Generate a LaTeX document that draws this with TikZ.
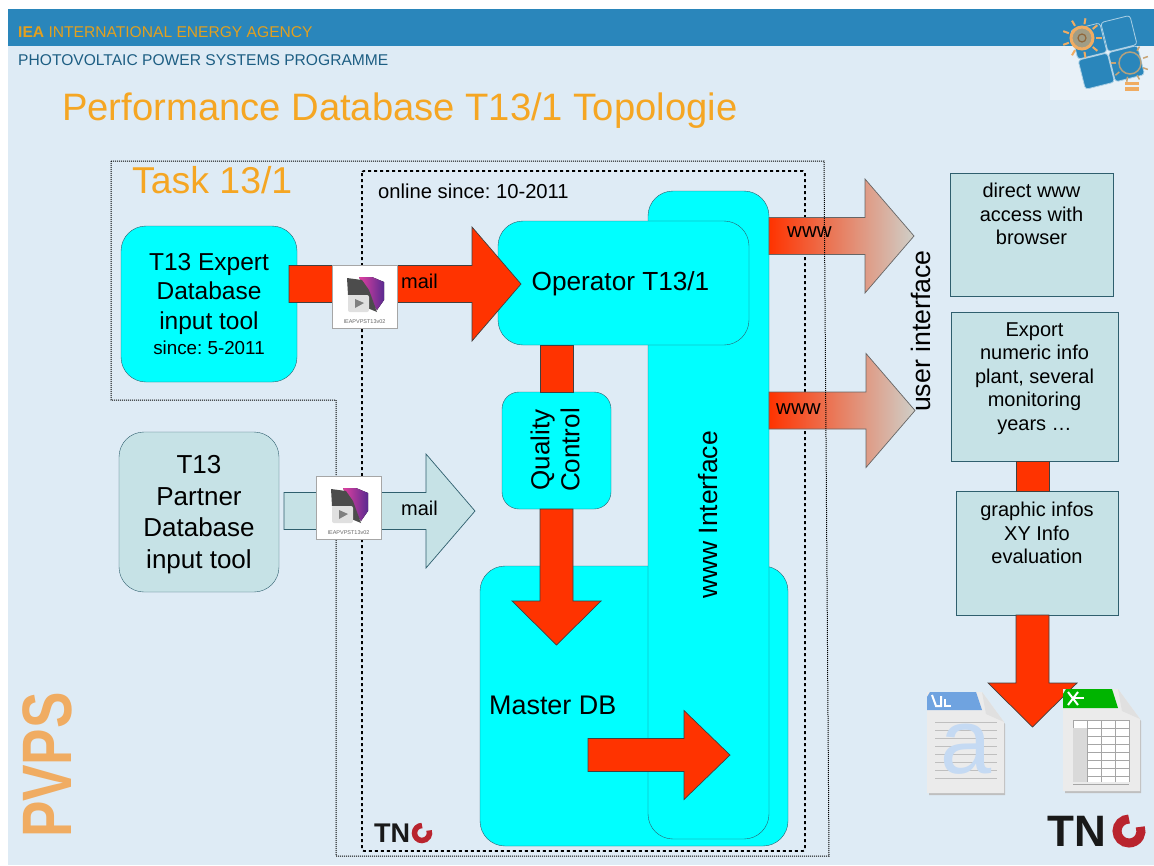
\documentclass[tikz,border=0pt]{standalone}
\usepackage{fontspec}
\setmainfont{Liberation Sans}
\usetikzlibrary{calc}
\usetikzlibrary{positioning}
\definecolor{slidebg}{HTML}{DEEBF5}
\definecolor{bandblue}{HTML}{2A86BB}
\definecolor{titleorange}{HTML}{F5A623}
\definecolor{softorange}{HTML}{F0AC62}
\definecolor{aqua}{HTML}{00FFFF}
\definecolor{paleteal}{HTML}{C6E2E6}
\definecolor{edgeteal}{HTML}{2F5F6E}
\definecolor{arrowred}{HTML}{FF3300}
\definecolor{fadered}{HTML}{E08A70}
\definecolor{fadegrey}{HTML}{CFCFC8}
\definecolor{tnored}{HTML}{B9242E}
\definecolor{wordblue}{HTML}{6FA3E0}
\definecolor{sheetgreen}{HTML}{00B400}
\definecolor{iconpink}{HTML}{E040A0}
\definecolor{iconviolet}{HTML}{5A2A90}
\tikzstyle{online} = [rectangle, rounded corners=25, draw=edgeteal, fill=aqua, align=center]
\tikzstyle{partnerbox} = [rectangle, rounded corners=25, draw=edgeteal, fill=paleteal, align=center]
\tikzstyle{outbox} = [rectangle, draw=edgeteal, fill=paleteal, align=center]
\tikzstyle{outtext} = [align=center, inner sep=0pt, font=\fontsize{20}{23.5}\selectfont]
\tikzstyle{bigarrow} = [draw=black!75, fill=arrowred, line width=0.7pt, line join=miter]
\tikzstyle{palearrow} = [draw=edgeteal, fill=paleteal, line width=0.7pt]
\tikzstyle{fadearrow} = [draw=black!60, line width=0.7pt, left color=arrowred, middle color=fadered, right color=fadegrey]
\tikzstyle{tag} = [font=\fontsize{20}{24}\selectfont]
\newcommand{\blockarrow}[6][bigarrow]{% from, to, half shaft, half head, head length
  \coordinate (neck) at ($(#3)!#6pt!(#2)$);
  \draw [#1] ($(#2)!#4pt!90:(#3)$) -- ($(neck)!#4pt!90:(#3)$) -- ($(neck)!#5pt!90:(#3)$) -- (#3)
    -- ($(neck)!#5pt!-90:(#3)$) -- ($(neck)!#4pt!-90:(#3)$) -- ($(#2)!#4pt!-90:(#3)$) -- cycle;
}
\newcommand{\dbicon}[2]{% name, top left corner of the mail attachment
  \node (#1) [draw=black!35, line width=0.8pt, fill=white, minimum width=65, minimum height=63, anchor=north west, inner sep=0pt] at (#2) {};
  \begin{scope}[shift={(#1.north west)}]
    \fill [left color=iconpink, right color=iconviolet] (27,12) -- (40,12) -- (52,17) -- (52,35) -- (45,45) -- (33,25) -- cycle;
    \fill [black!70] (15,13) -- (30,15) -- (37,25) -- (45,47) -- (33,42) -- (33,30) -- (16,30) -- cycle;
    \fill [black!12, rounded corners=2] (16,30) rectangle (37,47);
    \fill [black!50] (23,34) -- (32,38) -- (23,43) -- cycle;
    \node [font=\fontsize{5.5}{6}\selectfont, text=black!60, inner sep=0pt] at (32.5,57) {IEAPVPST13v02};
  \end{scope}
}
\frenchspacing
\begin{document}
\begin{tikzpicture}[x=1pt, y=-1pt, node distance=100pt]
  \useasboundingbox (0,0) rectangle (1154,865);

  % slide background and header
  \fill [white] (0,0) rectangle (1154,865);
  \fill [slidebg] (8,46) rectangle (1154,865);
  \fill [bandblue] (8,9) rectangle (1154,46);
  \fill [white!30!slidebg] (1050,46) rectangle (1154,100);
  \node (agency) [anchor=west, inner sep=0pt, text=titleorange!85!olive, font=\fontsize{15.6}{17}\selectfont] at (18,32) {\textbf{IEA} INTERNATIONAL ENERGY AGENCY};
  \node (programme) [anchor=west, inner sep=0pt, text=bandblue!70!black, font=\fontsize{15.6}{17}\selectfont] at (18,60) {PHOTOVOLTAIC POWER SYSTEMS PROGRAMME};
  \node (title) [anchor=west, inner sep=0pt, text=titleorange, font=\fontsize{38.2}{42}\selectfont] at (62,111) {Performance Database T13/1 Topologie};

  % online frame
  \draw [dashed, line width=1.8pt, rounded corners=2] (362,171) rectangle (805,851);
  \node (task) [anchor=west, inner sep=0pt, text=titleorange, font=\fontsize{37.4}{40}\selectfont] at (132,180) {Task 13/1};
  \node (since) [anchor=west, inner sep=0pt, font=\fontsize{20.2}{24}\selectfont] at (378,191) {online since: 10-2011};

  % We start by placing the blocks
  \node (master) [online, minimum width=308, minimum height=280] at (634,706) {};
  \node (masterlabel) [anchor=west, inner sep=0pt, font=\fontsize{26.9}{30}\selectfont] at (489,705) {Master DB};
  \node (wwwif) [online, minimum width=121, minimum height=648] at (708.5,515) {};
  \node (wwwlabel) [rotate=90, inner sep=0pt, font=\fontsize{26.5}{30}\selectfont] at (708,515) {www Interface};
  \node (operator) [online, minimum width=251, minimum height=124] at (623.5,283) {};
  \node (operatorlabel) [inner sep=0pt, font=\fontsize{26.2}{31}\selectfont] at (620.5,284) {Operator T13/1};
  \node (quality) [online, rounded corners=17, minimum width=109, minimum height=117] at (556.5,450.5) {};
  \node (qualitylabel) [rotate=90, align=center, inner sep=0pt, font=\fontsize{26}{30}\selectfont] at (555,450) {Quality\\Control};
  \node (expert) [online, minimum width=176, minimum height=156, font=\fontsize{24.5}{29.5}\selectfont] at (209,304) {T13 Expert\\Database\\input tool\\[-4pt]{\fontsize{18.8}{22}\selectfont since: 5-2011}};
  \node (partner) [partnerbox, minimum width=160, minimum height=160] at (199,512) {};
  \node (partnerlabel) [align=center, inner sep=0pt, font=\fontsize{26}{31.5}\selectfont] at (199,514.5) {T13\\Partner\\Database\\input tool};

  \node (browser) [outbox, minimum width=163, minimum height=123] at (1031.5,234.5) {};
  \node (browserlabel) [outtext, above of=browser, yshift=-79.5pt] {direct www\\access with\\browser};
  \node (export) [outbox, minimum width=167, minimum height=149] at (1034.5,386.5) {};
  \node (exportlabel) [outtext, above of=export, yshift=-92pt] {Export\\numeric info\\plant, several\\monitoring\\years \dots};
  \node (graphic) [outbox, minimum width=162, minimum height=124] at (1037,553) {};
  \node (graphiclabel) [outtext, above of=graphic, yshift=-80pt] {graphic infos\\XY Info\\evaluation};
  \node (userif) [rotate=90, inner sep=0pt, font=\fontsize{26.7}{30}\selectfont] at (921,331) {user interface};

  % Free ends of the block arrows
  \coordinate (mailstart) at (289,284);
  \coordinate (mailtip) at (521,284);
  \coordinate (pmailstart) at (284,511);
  \coordinate (pmailtip) at (475,511);
  \coordinate (wwwstartA) at (769,236);
  \coordinate (wwwtipA) at (914,236);
  \coordinate (wwwstartB) at (769,410.5);
  \coordinate (wwwtipB) at (915,410.5);
  \coordinate (dbtip) at (556.5,645);
  \coordinate (pushstart) at (588,755);
  \coordinate (pushtip) at (730,755);
  \coordinate (filetip) at (1032.5,727);
  \coordinate (filestart) at (1032.5,615);
  \coordinate (dbstart) at (556.5,509);

  % Draw the connections between blocks
  \blockarrow{mailstart}{mailtip}{18.5}{57}{49}
  \blockarrow[palearrow]{pmailstart}{pmailtip}{18.5}{57}{49}
  \blockarrow[fadearrow]{wwwstartA}{wwwtipA}{18.5}{57}{49}
  \blockarrow[fadearrow]{wwwstartB}{wwwtipB}{18.5}{57}{49}
  \draw [bigarrow] (540,345) rectangle (573,392);
  \blockarrow{dbstart}{dbtip}{16.5}{44.5}{44}
  \blockarrow{pushstart}{pushtip}{16.5}{44.5}{46}
  \draw [bigarrow] (1016,461) rectangle (1049,491);
  \blockarrow{filestart}{filetip}{16.5}{44.5}{44}

  \node (mailA) [tag, anchor=west, inner sep=0pt] at (401,281) {mail};
  \node (mailB) [tag, anchor=west, inner sep=0pt] at (401,508) {mail};
  \node (wwwA) [tag, anchor=west, inner sep=0pt, font=\fontsize{20.5}{24}\selectfont] at (787,232) {www};
  \node (wwwB) [tag, anchor=west, inner sep=0pt, font=\fontsize{20.5}{24}\selectfont] at (776,409) {www};

  % task frame, over the arrows
  \draw [densely dotted, line width=1pt] (111,161) -- (824,161) -- (829,856) -- (336,856) -- (336,400) -- (111,400) -- cycle;

  % attachments on the mail arrows
  \dbicon{attachA}{332,265}
  \dbicon{attachB}{316,476}

  % exported documents
  \fill [black!25] (929,695) -- (982,695) -- (1005,724) -- (1005,795) -- (929,795) -- cycle;
  \fill [white!92!black] (927,692) -- (982,692) -- (1004,722) -- (1004,793) -- (927,793) -- cycle;
  \fill [wordblue] (927,710) -- (927,697) -- (930,692) -- (976,692) -- (982,710) -- cycle;
  \fill [black!12] (982,692) -- (1004,722) -- (986,714) -- cycle;
  \foreach \y in {722,730,...,784} \draw [black!25, line width=0.6pt] (935,\y) -- (997,\y);
  \node (wordmark) [text=wordblue!40, font=\fontsize{92}{92}\selectfont, inner sep=0pt] at (966,749) {a};
  \draw [white, line width=2pt] (932,695) -- (936,706) -- (941,706) -- (941,696);
  \draw [white, line width=1.5pt] (945,699) -- (945,706) -- (951,706);
  \fill [black!25] (1065,692) -- (1118,692) -- (1141,721) -- (1141,793) -- (1065,793) -- cycle;
  \fill [white!92!black] (1063,689) -- (1118,689) -- (1140,719) -- (1140,791) -- (1063,791) -- cycle;
  \fill [sheetgreen] (1063,708) -- (1063,694) -- (1066,689) -- (1112,689) -- (1118,708) -- cycle;
  \fill [black!12] (1118,689) -- (1140,719) -- (1122,711) -- cycle;
  \fill [white] (1073,720) rectangle (1129,782);
  \foreach \y in {720,728,...,784} \draw [black!35, line width=0.5pt] (1073,\y) -- (1129,\y);
  \foreach \x in {1073,1087,1101,1115,1129} \draw [black!35, line width=0.5pt] (\x,720) -- (\x,782);
  \fill [black!15] (1073,728) rectangle (1087,782);
  \draw [white, line width=2pt] (1068,692) -- (1078,705);
  \draw [white, line width=2pt] (1078,692) -- (1068,705);
  \draw [white, line width=1.5pt] (1073,698) -- (1084,698);

  % logos
  \node (pvps) [rotate=90, xscale=0.78, inner sep=0pt, text=softorange, font=\bfseries\fontsize{70}{70}\selectfont] at (47,765) {PVPS};
  \node (tnosmall) [anchor=west, inner sep=0pt, text=black!90, font=\bfseries\fontsize{27}{27}\selectfont] at (374,833) {TN};
  \draw [tnored, line width=5.5pt] (422,825.5) arc [start angle=-90, end angle=-380, radius=7.5];
  \node (tnolarge) [anchor=west, inner sep=0pt, text=black!90, font=\bfseries\fontsize{44}{44}\selectfont] at (1047,831) {TN};
  \draw [tnored, line width=9pt] (1129,819) arc [start angle=-90, end angle=-380, radius=12];

  \begin{scope}[shift={(1107,52)}, rotate=14, line width=0.8pt]
    \draw [draw=white!60!bandblue, fill=bandblue, rounded corners=3] (-30,-30) rectangle (0,0);
    \draw [draw=white!60!bandblue, fill=bandblue, rounded corners=3] (1,-30) rectangle (31,0);
    \draw [draw=white!60!bandblue, fill=bandblue, rounded corners=3] (-30,1) rectangle (0,31);
    \draw [draw=white!60!bandblue, fill=bandblue, rounded corners=3] (1,1) rectangle (31,31);
  \end{scope}
  \node (sun) [circle, minimum size=22, inner sep=0pt, draw=softorange, line width=3pt, fill=softorange!60!bandblue] at (1082,38) {};
  \foreach \a in {0,40,...,320} \draw [softorange, line width=2pt] ($(sun)+(\a:14)$) -- ($(sun)+(\a:20)$);
  \draw [softorange!60!black, line width=1.2pt] (sun.center) circle [radius=4];
  \node (bulb) [circle, minimum size=22, inner sep=0pt, draw=softorange!70!bandblue, line width=1.5pt, fill=bandblue] at (1130,63) {};
  \foreach \a in {-60,-20,20,60,100,140,180} \draw [softorange!80!bandblue, line width=1.5pt] ($(bulb)+(\a:14)$) -- ($(bulb)+(\a:19)$);
  \fill [softorange] (1125,82) rectangle (1139,85);
  \fill [softorange] (1125,87) rectangle (1139,91);
\end{tikzpicture}
\end{document}
